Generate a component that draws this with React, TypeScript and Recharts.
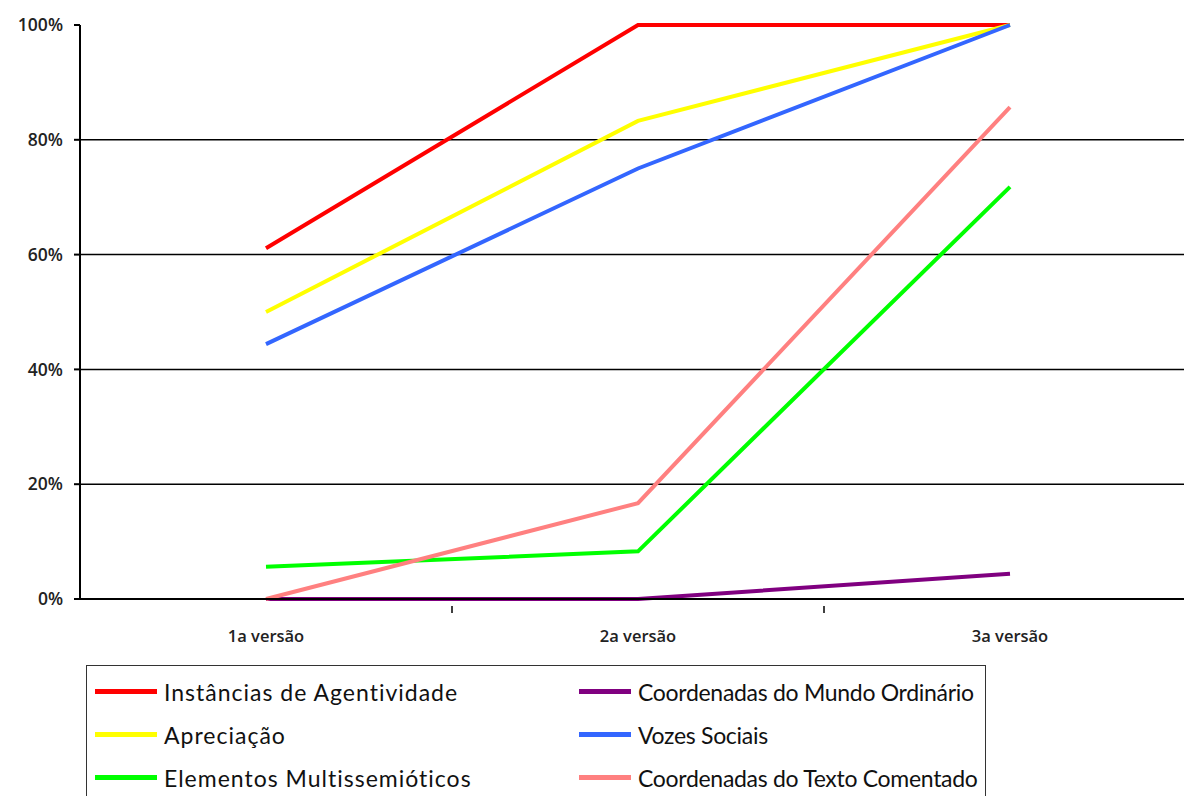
import { CartesianGrid, Line, LineChart, ReferenceLine, XAxis, YAxis } from "recharts";

const categories = ["1a versão", "2a versão", "3a versão"];
const agentividade = [0.611, 1, 1];
const mundoOrdinario = [0, 0, 0.044];
const apreciacao = [0.5, 0.833, 1];
const vozesSociais = [0.444, 0.75, 1];
const multissemioticos = [0.056, 0.083, 0.718];
const textoComentado = [0, 0.167, 0.857];
const yTicks = [0, 0.2, 0.4, 0.6, 0.8, 1];
const gridValues = [0.2, 0.4, 0.6, 0.8];

const series = [
  { key: "agentividade", name: "Instâncias de Agentividade", color: "#ff0000", values: agentividade },
  { key: "mundo", name: "Coordenadas do Mundo Ordinário", color: "#800080", values: mundoOrdinario },
  { key: "apreciacao", name: "Apreciação", color: "#ffff00", values: apreciacao },
  { key: "vozes", name: "Vozes Sociais", color: "#3366ff", values: vozesSociais },
  { key: "multi", name: "Elementos Multissemióticos", color: "#00ff00", values: multissemioticos },
  { key: "texto", name: "Coordenadas do Texto Comentado", color: "#ff8080", values: textoComentado },
];

const data = categories.map((label, i) => {
  const row: Record<string, string | number> = { label };
  series.forEach((s) => {
    row[s.key] = s.values[i];
  });
  return row;
});

const axisFont = "'Open Sans', Lato, sans-serif";
const legendFont = "Lato, 'Open Sans', sans-serif";
const halfStep = 186;

function XTick(props: any) {
  const { x, y, payload } = props;
  return (
    <g>
      <line x1={x + halfStep} x2={x + halfStep} y1={y - 1} y2={y + 6} stroke="#000" strokeWidth={1.5} />
      <text x={x} y={y + 35} textAnchor="middle" fontSize={16.5} fontWeight={600} fill="#222" fontFamily={axisFont}>
        {payload.value}
      </text>
    </g>
  );
}

export default function App() {
  return (
    <div style={{ position: "absolute", left: 0, top: 0, width: 1184, height: 796, overflow: "hidden", background: "#fff" }}>
      <LineChart width={1200} height={660} data={data} margin={{ top: 25, right: 4, bottom: 5, left: 0 }}>
        <CartesianGrid horizontal={false} vertical={false} />
        <XAxis
          dataKey="label"
          padding={{ left: halfStep, right: halfStep }}
          height={56}
          stroke="#000"
          strokeWidth={2}
          tickLine={false}
          tick={<XTick />}
          interval={0}
        />
        <YAxis
          width={80}
          domain={[0, 1]}
          ticks={yTicks}
          tickFormatter={(v) => `${Math.round(v * 100)}%`}
          stroke="#000"
          strokeWidth={2}
          tickSize={6}
          tickMargin={11}
          tick={{ fill: "#222", fontSize: 17.5, fontFamily: axisFont, fontWeight: 600 }}
        />
        {gridValues.map((v) => (
          <ReferenceLine key={v} y={v} stroke="#000" strokeWidth={1.5} />
        ))}
        {series.map((s) => (
          <Line
            key={s.key}
            dataKey={s.key}
            name={s.name}
            stroke={s.color}
            strokeWidth={4}
            dot={false}
            activeDot={false}
            isAnimationActive={false}
          />
        ))}
      </LineChart>
      <div
        style={{
          position: "absolute",
          left: 86,
          top: 665,
          width: 900,
          height: 160,
          border: "1.5px solid #333",
          boxSizing: "border-box",
          display: "grid",
          gridTemplateColumns: "492px 1fr",
          gridAutoRows: "43px",
          paddingTop: 4,
          fontFamily: legendFont,
          fontSize: 23,
          color: "#111",
          whiteSpace: "nowrap",
        }}
      >
        {series.map((s, i) => (
          <div
            key={s.key}
            style={{
              display: "flex",
              alignItems: "center",
              paddingLeft: i % 2 === 0 ? 8 : 0,
              letterSpacing: i % 2 === 0 ? 1 : -0.3,
            }}
          >
            <span
              style={{
                display: "inline-block",
                width: i % 2 === 0 ? 62 : 52,
                height: 5,
                background: s.color,
                marginRight: 7,
              }}
            />
            <span>{s.name}</span>
          </div>
        ))}
      </div>
    </div>
  );
}
